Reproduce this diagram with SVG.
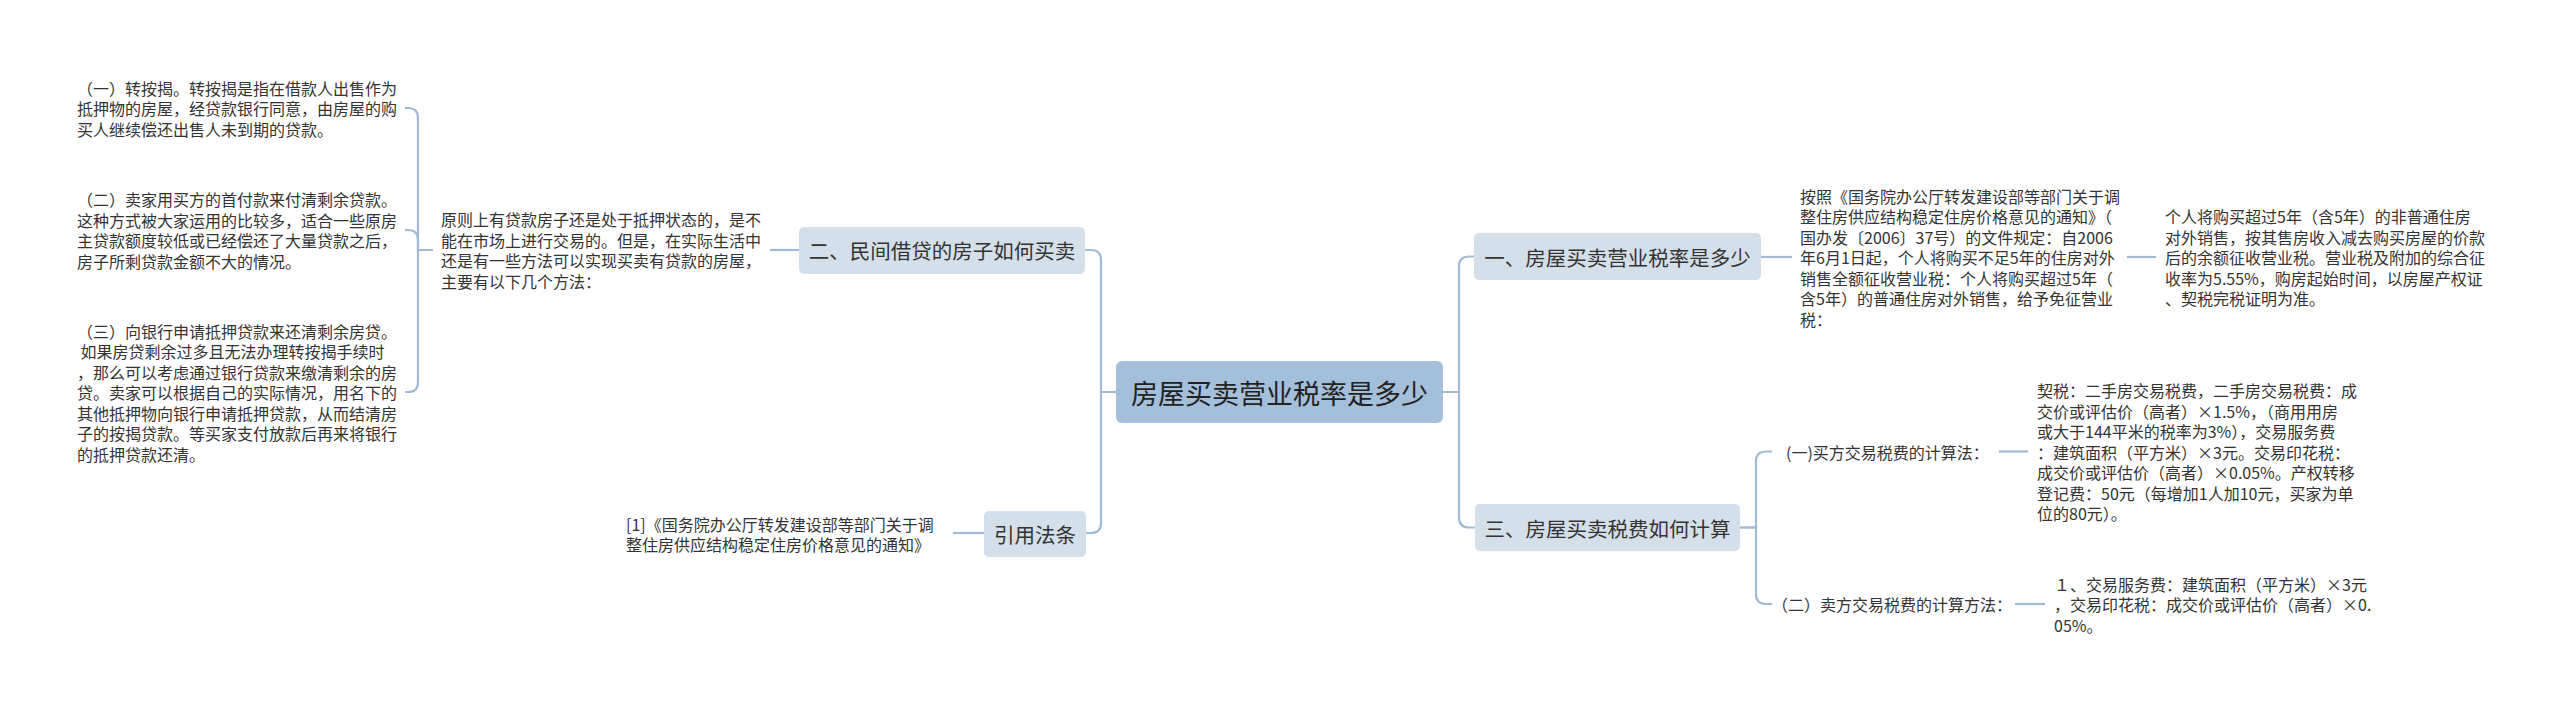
<svg xmlns="http://www.w3.org/2000/svg" width="2560" height="711" viewBox="0 0 2560 711">
<style>
text{font-family:"Noto Sans CJK SC","Liberation Sans",sans-serif;fill:#333;dominant-baseline:central}
.t{font-size:16px}
.n{font-size:20.5px;text-anchor:middle}
.c{font-size:27px;text-anchor:middle;fill:#222}
.box{fill:#d3dfe9}
.cbox{fill:#a4bfda}
.ln{fill:none;stroke:#a2bbd5;stroke-width:2.2}
</style>
<rect width="2560" height="711" fill="#fff"/>
<g id="connectors">
<path class="ln" d="M1116 392H1101V260Q1101 250 1091 250H1085"/>
<path class="ln" d="M1116 392H1101V523Q1101 533 1091 533H1086"/>
<path class="ln" d="M1443 392H1459V266.5Q1459 256.5 1469 256.5H1474"/>
<path class="ln" d="M1443 392H1459V517.5Q1459 527.5 1469 527.5H1475"/>
<path class="ln" d="M1740 527.5H1756V461.5Q1756 451.5 1766 451.5H1772"/>
<path class="ln" d="M1740 527.5H1756V594Q1756 604 1766 604H1772"/>
<path class="ln" d="M1761 257H1792"/>
<path class="ln" d="M2127 257H2156"/>
<path class="ln" d="M1999 451.5H2028"/>
<path class="ln" d="M2015 604H2045"/>
<path class="ln" d="M799 250H770"/>
<path class="ln" d="M984 533H953"/>
<path class="ln" d="M433 250H418V118Q418 108 408 108H405"/>
<path class="ln" d="M433 250H418V240Q418 230 408 230H405"/>
<path class="ln" d="M433 250H418V382Q418 392 408 392H405"/>
</g>
<g id="center">
<rect class="cbox" x="1116" y="361" width="327" height="62" rx="6"/>
<text class="c" x="1279.5" y="392">房屋买卖营业税率是多少</text>
</g>
<g id="node-1">
<rect class="box" x="1474" y="233" width="287" height="47" rx="5"/>
<text class="n" x="1617.5" y="256.5">一、房屋买卖营业税率是多少</text>
</g>
<g id="node-1-text">
<text class="t" x="1800" y="195.5">按照《国务院办公厅转发建设部等部门关于调</text>
<text class="t" x="1800" y="216">整住房供应结构稳定住房价格意见的通知》（</text>
<text class="t" x="1800" y="236.5">国办发〔2006〕37号）的文件规定：自2006</text>
<text class="t" x="1800" y="257">年6月1日起，个人将购买不足5年的住房对外</text>
<text class="t" x="1800" y="277.5">销售全额征收营业税：个人将购买超过5年（</text>
<text class="t" x="1800" y="298">含5年）的普通住房对外销售，给予免征营业</text>
<text class="t" x="1800" y="318.5">税：</text>
</g>
<g id="node-1-text-2">
<text class="t" x="2165" y="216">个人将购买超过5年（含5年）的非普通住房</text>
<text class="t" x="2165" y="236.5">对外销售，按其售房收入减去购买房屋的价款</text>
<text class="t" x="2165" y="257">后的余额征收营业税。营业税及附加的综合征</text>
<text class="t" x="2165" y="277.5">收率为5.55%，购房起始时间，以房屋产权证</text>
<text class="t" x="2165" y="298">、契税完税证明为准。</text>
</g>
<g id="node-3">
<rect class="box" x="1475" y="504" width="265" height="47" rx="5"/>
<text class="n" x="1607.5" y="527.5">三、房屋买卖税费如何计算</text>
</g>
<g id="node-3-1">
<text class="t" x="1786" y="451.5">(一)买方交易税费的计算法：</text>
</g>
<g id="node-3-1-text">
<text class="t" x="2037" y="390">契税：二手房交易税费，二手房交易税费：成</text>
<text class="t" x="2037" y="410.5">交价或评估价（高者）×1.5%，（商用用房</text>
<text class="t" x="2037" y="431">或大于144平米的税率为3%），交易服务费</text>
<text class="t" x="2037" y="451.5">：建筑面积（平方米）×3元。交易印花税：</text>
<text class="t" x="2037" y="472">成交价或评估价（高者）×0.05%。产权转移</text>
<text class="t" x="2037" y="492.5">登记费：50元（每增加1人加10元，买家为单</text>
<text class="t" x="2037" y="513">位的80元）。</text>
</g>
<g id="node-3-2">
<text class="t" x="1772" y="604">（二）卖方交易税费的计算方法：</text>
</g>
<g id="node-3-2-text">
<text class="t" x="2054" y="583.5">１、交易服务费：建筑面积（平方米）×3元</text>
<text class="t" x="2054" y="604">，交易印花税：成交价或评估价（高者）×0.</text>
<text class="t" x="2054" y="624.5">05%。</text>
</g>
<g id="node-2">
<rect class="box" x="799" y="227" width="286" height="47" rx="5"/>
<text class="n" x="942" y="250">二、民间借贷的房子如何买卖</text>
</g>
<g id="node-2-text">
<text class="t" x="441" y="219.25">原则上有贷款房子还是处于抵押状态的，是不</text>
<text class="t" x="441" y="239.75">能在市场上进行交易的。但是，在实际生活中</text>
<text class="t" x="441" y="260.25">还是有一些方法可以实现买卖有贷款的房屋，</text>
<text class="t" x="441" y="280.75">主要有以下几个方法：</text>
</g>
<g id="node-2-a">
<text class="t" x="77" y="87.5">（一）转按揭。转按揭是指在借款人出售作为</text>
<text class="t" x="77" y="108">抵押物的房屋，经贷款银行同意，由房屋的购</text>
<text class="t" x="77" y="128.5">买人继续偿还出售人未到期的贷款。</text>
</g>
<g id="node-2-b">
<text class="t" x="77" y="199">（二）卖家用买方的首付款来付清剩余贷款。</text>
<text class="t" x="77" y="219.5">这种方式被大家运用的比较多，适合一些原房</text>
<text class="t" x="77" y="240">主贷款额度较低或已经偿还了大量贷款之后，</text>
<text class="t" x="77" y="260.5">房子所剩贷款金额不大的情况。</text>
</g>
<g id="node-2-c">
<text class="t" x="77" y="330.5">（三）向银行申请抵押贷款来还清剩余房贷。</text>
<text class="t" x="77" y="351">&#160;如果房贷剩余过多且无法办理转按揭手续时</text>
<text class="t" x="77" y="371.5">，那么可以考虑通过银行贷款来缴清剩余的房</text>
<text class="t" x="77" y="392">贷。卖家可以根据自己的实际情况，用名下的</text>
<text class="t" x="77" y="412.5">其他抵押物向银行申请抵押贷款，从而结清房</text>
<text class="t" x="77" y="433">子的按揭贷款。等买家支付放款后再来将银行</text>
<text class="t" x="77" y="453.5">的抵押贷款还清。</text>
</g>
<g id="node-4">
<rect class="box" x="984" y="511" width="102" height="46" rx="5"/>
<text class="n" x="1035" y="534">引用法条</text>
</g>
<g id="node-4-text">
<text class="t" x="626" y="523.75">[1]《国务院办公厅转发建设部等部门关于调</text>
<text class="t" x="626" y="544.25">整住房供应结构稳定住房价格意见的通知》</text>
</g>
</svg>
